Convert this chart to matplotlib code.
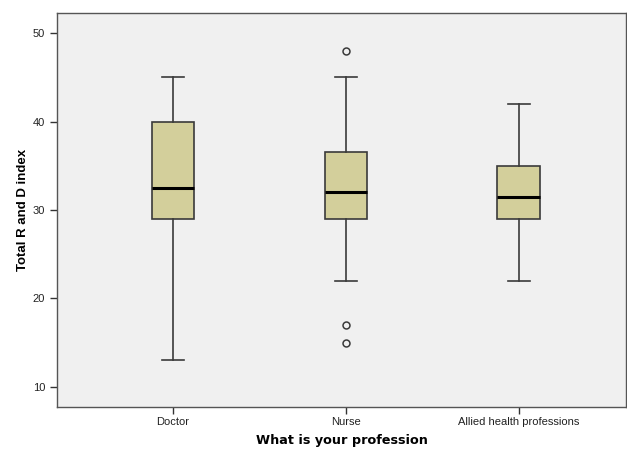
import matplotlib
matplotlib.use("Agg")
import matplotlib.pyplot as plt

# box summary
groups = ['Doctor', 'Nurse', 'Allied health professions']
whislo = [13, 22, 22]
q1 = [29, 29, 29]
med = [32.5, 32, 31.5]
q3 = [40, 36.5, 35]
whishi = [45, 45, 42]
outliers = [[], [48, 17, 15], []]

stats = []
for i in range(len(groups)):
    stats.append({'label': groups[i], 'whislo': whislo[i], 'q1': q1[i],
                  'med': med[i], 'q3': q3[i], 'whishi': whishi[i],
                  'fliers': outliers[i]})

fig = plt.figure(figsize=(6.27, 4.49), dpi=100)
ax = fig.add_axes([57/627, 1 - 407/449, (626-57)/627, (407-13)/449])
ax.set_facecolor('#f0f0f0')

edge = '#3a3a3a'
ax.bxp(stats, positions=[1, 2, 3], widths=0.246, patch_artist=True,
       boxprops=dict(facecolor='#d3cf9b', edgecolor=edge, linewidth=1.2),
       whiskerprops=dict(color=edge, linewidth=1.2),
       capprops=dict(color=edge, linewidth=1.2),
       capwidths=0.125,
       medianprops=dict(color='black', linewidth=2.2),
       flierprops=dict(marker='o', markersize=5, markerfacecolor='none',
                       markeredgecolor=edge, markeredgewidth=1.1))

ax.set_xlim(0.33, 3.62)
ax.set_ylim(7.74, 52.26)
ax.set_yticks([10, 20, 30, 40, 50])

for s in ax.spines.values():
    s.set_color('#555555')
    s.set_linewidth(1.0)

ax.tick_params(axis='both', direction='out', length=5, width=1,
               color='#333333', labelsize=8, labelcolor='#222222')
ax.tick_params(axis='x', pad=2)
for lab in ax.get_xticklabels() + ax.get_yticklabels():
    lab.set_family('Liberation Sans')

ax.set_xlabel('What is your profession', fontsize=9.2, fontweight='bold',
              family='DejaVu Sans', labelpad=5)
ax.set_ylabel('Total R and D index', fontsize=9.5, fontweight='bold',
              family='Liberation Sans', labelpad=3)

fig.savefig('out.png', dpi=100)
